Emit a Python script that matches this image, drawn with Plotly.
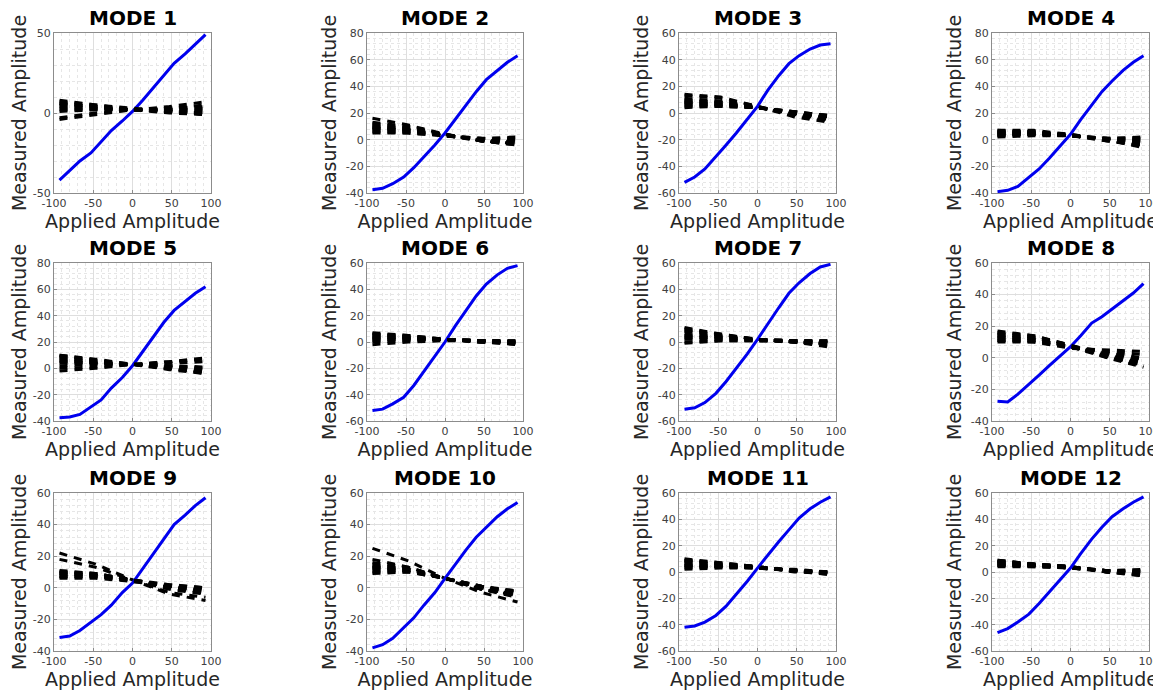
import plotly.graph_objects as go

# ---------------- data ----------------
mode_names = ["MODE 1", "MODE 2", "MODE 3", "MODE 4", "MODE 5", "MODE 6",
              "MODE 7", "MODE 8", "MODE 9", "MODE 10", "MODE 11", "MODE 12"]

x_main = [-93, -80, -67, -53, -40, -27, -13, 0, 13, 27, 40, 53, 67, 80, 93]
x_cross = [-93, -47, 0, 47, 93]

x_tickvals = [-100, -50, 0, 50, 100]
x_ticktext = ["-100", "-50", "0", "50", "100"]

y_ranges = [(-50, 50), (-40, 80), (-60, 60), (-40, 80), (-40, 80), (-60, 60),
            (-60, 60), (-40, 60), (-40, 60), (-40, 60), (-60, 60), (-60, 60)]
y_dticks = [50, 20, 20, 20, 20, 20, 20, 20, 20, 20, 20, 20]
y_minor = [10, 4, 4, 4, 4, 4, 4, 4, 4, 4, 4, 4]

# measured amplitude of the actuated mode (solid blue)
blue_1 = [-42, -36, -30, -25, -18, -11, -5, 1, 8, 16, 23, 31, 37, 43, 49]
blue_2 = [-37.5, -36.5, -33, -28, -21, -13, -4, 5, 15, 26, 36, 45, 52, 58, 63]
blue_3 = [-52, -48, -42, -33, -24, -15, -5, 5, 17, 28, 37, 43, 48, 51, 52]
blue_4 = [-39, -38, -35, -28, -22, -14, -5, 4, 15, 26, 36, 44, 52, 58, 63]
blue_5 = [-37.5, -37, -35, -29, -24, -15, -7, 2, 13, 24, 35, 44, 51, 57, 62]
blue_6 = [-52, -51, -47, -42, -33, -22, -11, 0, 12, 24, 35, 44, 51, 56, 58]
blue_7 = [-51, -50, -46, -39, -30, -20, -9, 2, 14, 26, 37, 45, 52, 57, 59]
blue_8 = [-27.5, -28, -23, -17, -11, -5, 1, 7, 14, 22, 26, 31, 36, 41, 47]
blue_9 = [-31.5, -30.5, -27, -22, -17, -11, -3, 3, 12, 22, 31, 40, 46, 52, 57]
blue_10 = [-38, -36, -32, -25, -19, -11, -3, 6, 15, 24, 32, 38, 45, 50, 54]
blue_11 = [-42, -41, -38, -33, -26, -17, -7, 3, 13, 23, 32, 41, 48, 53, 57]
blue_12 = [-46, -43, -38, -32, -24, -15, -6, 3, 14, 25, 34, 42, 48, 53, 57]

# measured amplitude of the other (non-actuated) modes (dashed black)
cross_1 = [[8, 5, 2, 1, 0], [6, 4, 2, 1, -1], [5, 4, 2, 2, 1], [4, 3, 2, 2, 2],
           [2, 2, 2, 3, 4], [-3, 0, 2, 4, 7], [-4, -1, 2, 3, 5], [7, 5, 3, 1, -1],
           [3, 3, 2, 1, 0], [1, 2, 2, 2, 3], [6, 4, 2, 0, -1]]
cross_2 = [[16, 11, 4, -1, -3], [12, 9, 4, 0, -2], [10, 8, 3, 0, -3], [9, 7, 3, -1, -4],
           [7, 6, 3, 0, 1], [5, 5, 3, 1, 2], [11, 8, 4, -1, -4], [8, 7, 3, 0, -1],
           [6, 5, 3, 1, 0], [13, 10, 4, -1, -3], [9, 7, 3, 0, -2]]
cross_3 = [[14, 12, 5, -3, -7], [13, 11, 5, -2, -6], [10, 8, 4, 0, -4], [8, 7, 4, 0, -3],
           [6, 6, 4, 1, -2], [5, 5, 4, 1, -3], [9, 8, 4, -1, -5], [7, 6, 4, 0, -2],
           [11, 9, 5, -1, -5], [4, 5, 4, 1, -2], [8, 7, 4, 0, -3]]
cross_4 = [[7, 7, 4, 0, -6], [6, 6, 3, 0, -4], [5, 5, 3, 0, -2], [4, 5, 3, 1, 0],
           [3, 4, 3, 1, 2], [2, 3, 3, 0, -1], [6, 6, 4, -1, -5], [5, 5, 3, 0, -3],
           [4, 4, 3, 1, 1], [3, 4, 3, 0, -2], [7, 6, 3, -1, -4]]
cross_5 = [[10, 6, 3, 0, -3], [8, 5, 3, 0, -4], [7, 5, 3, 1, -2], [6, 4, 3, 1, -1],
           [0, 1, 3, 5, 8], [-2, 0, 3, 5, 7], [9, 6, 3, 0, -3], [5, 4, 3, 2, 0],
           [4, 4, 3, 2, 1], [10, 7, 3, -1, -4], [2, 3, 3, 4, 5]]
cross_6 = [[7, 5, 2, 0, -1], [6, 5, 2, 0, -2], [5, 4, 2, 1, 0], [3, 3, 2, 1, 1],
           [2, 2, 2, 1, 0], [0, 1, 2, 1, 1], [-2, 0, 1, 1, 0], [4, 3, 2, 0, -1],
           [1, 2, 2, 0, -1], [6, 4, 2, 0, 0], [3, 3, 2, 1, -2]]
cross_7 = [[11, 6, 2, 0, -1], [10, 6, 2, 0, -2], [8, 5, 2, 1, 0], [6, 4, 2, 1, 1],
           [4, 3, 2, 0, -4], [2, 2, 1, 0, -3], [0, 1, 1, 1, 0], [5, 4, 2, 1, -1],
           [3, 3, 2, 0, 0], [9, 5, 2, 0, -1], [-1, 1, 1, 1, 1]]
cross_8 = [[17, 14, 8, 0, -6], [16, 14, 8, 1, -5], [15, 13, 7, 0, -4], [14, 12, 7, 1, -3],
           [13, 12, 7, 2, -2], [12, 11, 7, 3, 0], [11, 10, 7, 4, 2], [10, 10, 6, 5, 4],
           [15, 13, 8, 2, -4], [13, 12, 7, 1, -5], [11, 11, 7, 3, -1]]
cross_9 = [[22, 15, 5, -4, -8], [18, 13, 5, -3, -6], [10, 9, 5, 0, -3], [9, 8, 5, 1, -2],
           [8, 8, 5, 1, -1], [7, 7, 5, 2, 0], [6, 6, 4, 2, 0], [11, 9, 5, 0, -3],
           [9, 8, 4, 1, -2], [7, 7, 5, 1, -4], [10, 9, 5, -1, -4]]
cross_10 = [[25, 17, 6, -3, -9], [18, 13, 6, -1, -5], [16, 13, 6, -1, -4], [14, 12, 6, 0, -3],
            [13, 11, 6, 0, -4], [12, 11, 6, 1, -2], [10, 10, 6, 1, -3], [9, 10, 6, 0, -5],
            [15, 12, 6, -1, -6], [11, 11, 6, 0, -2], [13, 12, 6, 1, -3]]
cross_11 = [[10, 7, 4, 1, -1], [9, 7, 4, 1, 0], [8, 6, 4, 1, -1], [6, 5, 4, 1, -2],
            [5, 5, 3, 1, 0], [3, 4, 3, 1, -1], [2, 3, 3, 1, -1], [7, 6, 4, 1, -2],
            [4, 4, 3, 1, 0], [9, 6, 4, 0, -1], [5, 4, 3, 2, 0]]
cross_12 = [[9, 6, 4, 0, -3], [8, 6, 4, 1, -2], [7, 5, 4, 1, -1], [6, 5, 3, 1, 0],
            [5, 5, 3, 1, 2], [4, 4, 3, 1, 1], [8, 6, 4, 0, -2], [7, 6, 4, 0, -1],
            [6, 5, 3, 1, -3], [5, 4, 3, 0, -1], [9, 6, 4, 0, -2]]

blues = [blue_1, blue_2, blue_3, blue_4, blue_5, blue_6,
         blue_7, blue_8, blue_9, blue_10, blue_11, blue_12]
crosses = [cross_1, cross_2, cross_3, cross_4, cross_5, cross_6,
           cross_7, cross_8, cross_9, cross_10, cross_11, cross_12]

# ---------------- layout geometry ----------------
# the page body adds an 8px offset; panel positions below are screen pixels
OFF = 8
W, H = 1161, 691
col_px = [(54, 211), (367, 523), (679, 836), (992, 1149)]
row_px = [(33, 193), (263, 421), (493, 651)]

FONT = "DejaVu Sans"
TXT = "#262626"

fig = go.Figure()
layout = dict(
    width=W, height=H, margin=dict(l=0, r=0, t=0, b=0, pad=0, autoexpand=False),
    paper_bgcolor="white", plot_bgcolor="white", showlegend=False,
    font=dict(family=FONT, color=TXT),
)
annotations = []

for i in range(12):
    r, c = divmod(i, 4)
    ax = "" if i == 0 else str(i + 1)
    xref, yref = "x" + ax, "y" + ax
    x0, x1 = col_px[c][0] - OFF, col_px[c][1] - OFF
    y0, y1 = row_px[r][0] - OFF, row_px[r][1] - OFF
    xdom = [x0 / W, x1 / W]
    ydom = [(H - y1) / H, (H - y0) / H]

    traces = []
    for k, yc in enumerate(crosses[i]):
        traces.append(go.Scatter(x=x_cross, y=yc, mode="lines",
                                 line=dict(color="black", width=3, dash="8px,7px"),
                                 xaxis=xref, yaxis=yref, hoverinfo="skip"))
    blue = go.Scatter(x=x_main, y=blues[i], mode="lines",
                      line=dict(color="#0000ee", width=3),
                      xaxis=xref, yaxis=yref, hoverinfo="skip")
    traces.insert(min(i, len(traces)), blue)
    for t in traces:
        fig.add_trace(t)

    ylo, yhi = y_ranges[i]
    yt = list(range(ylo, yhi + 1, y_dticks[i]))
    common = dict(
        automargin=False,
        showline=True, linecolor="#8c8c8c", linewidth=1, mirror=True,
        ticks="inside", ticklen=3, tickcolor="#8c8c8c",
        showgrid=True, gridcolor="#dedede", gridwidth=1,
        zeroline=False,
        tickfont=dict(family=FONT, size=11, color="#404040"),
    )
    layout["xaxis" + ax] = dict(
        domain=xdom, range=[-100, 100], anchor=yref,
        tickmode="array", tickvals=x_tickvals, ticktext=x_ticktext,
        minor=dict(dtick=10, tick0=0, showgrid=True, gridcolor="#e6e6e6",
                   griddash="dot", ticks=""),
        title=dict(text="Applied Amplitude", font=dict(family=FONT, size=19, color=TXT),
                   standoff=0),
        **common,
    )
    layout["yaxis" + ax] = dict(
        domain=ydom, range=[ylo, yhi], anchor=xref,
        tickmode="array", tickvals=yt, ticktext=[str(v) for v in yt],
        minor=dict(dtick=y_minor[i], tick0=0, showgrid=True, gridcolor="#e6e6e6",
                   griddash="dot", ticks=""),
        title=dict(text="Measured Amplitude", font=dict(family=FONT, size=19, color=TXT),
                   standoff=4),
        **common,
    )
    annotations.append(dict(
        text="<b>" + mode_names[i] + "</b>", xref="paper", yref="paper",
        x=(x0 + x1) / 2 / W, y=(H - (y0 - 15)) / H,
        xanchor="center", yanchor="middle", showarrow=False,
        font=dict(family=FONT, size=20, color="black"),
    ))

layout["annotations"] = annotations
fig.update_layout(**layout)
fig.write_html("out.html")
